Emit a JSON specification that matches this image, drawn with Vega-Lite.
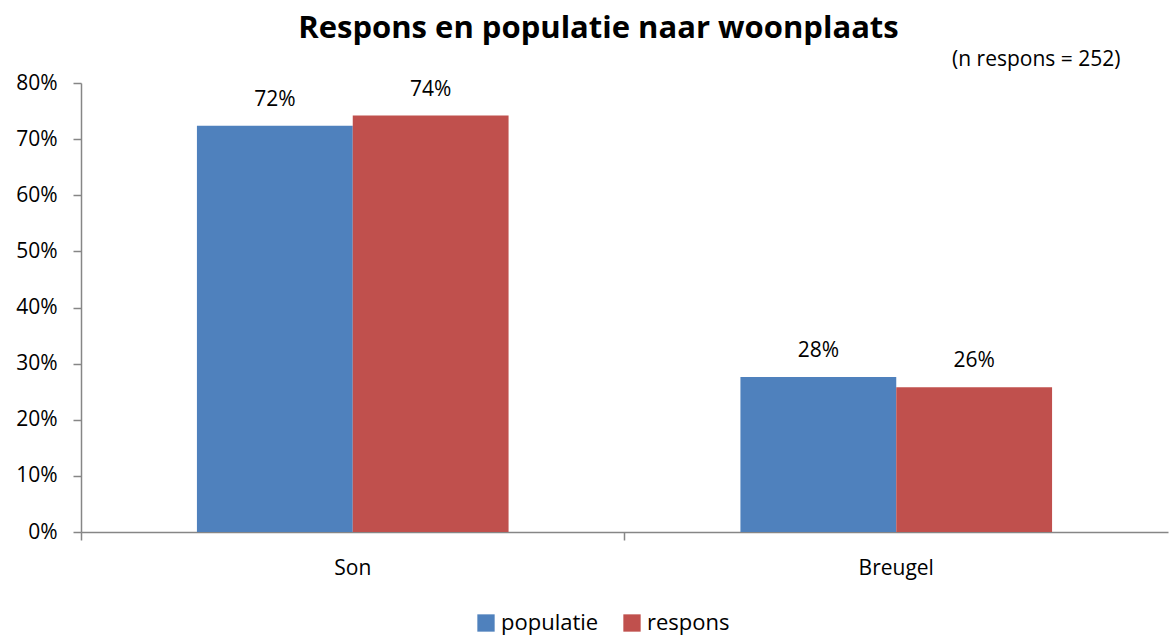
{
  "$schema": "https://vega.github.io/schema/vega-lite/v6.json",
  "width": 1087,
  "height": 449,
  "autosize": {"type": "none"},
  "padding": {"left": 81, "top": 83, "right": 2, "bottom": 105},
  "background": "white",
  "title": {
    "text": "Respons en populatie naar woonplaats",
    "font": "Open Sans",
    "fontSize": 31,
    "fontWeight": "bold",
    "color": "black",
    "anchor": "middle",
    "frame": "group",
    "dx": -26,
    "offset": 3
  },
  "config": {
    "view": {"stroke": null},
    "font": "Open Sans"
  },
  "data": {
    "values": [
      {"woonplaats": "Son", "groep": "populatie", "waarde": 0.724},
      {"woonplaats": "Son", "groep": "respons", "waarde": 0.742},
      {"woonplaats": "Breugel", "groep": "populatie", "waarde": 0.276},
      {"woonplaats": "Breugel", "groep": "respons", "waarde": 0.258}
    ]
  },
  "encoding": {
    "x": {
      "field": "woonplaats",
      "type": "nominal",
      "sort": ["Son", "Breugel"],
      "scale": {"paddingInner": 0, "paddingOuter": 0},
      "axis": null
    },
    "y": {
      "field": "waarde",
      "type": "quantitative",
      "scale": {"domain": [0, 0.8], "nice": false},
      "axis": {
        "title": null,
        "format": ".0%",
        "values": [0, 0.1, 0.2, 0.3, 0.4, 0.5, 0.6, 0.7, 0.8],
        "grid": false,
        "tickSize": 8,
        "tickColor": "#868686",
        "tickWidth": 1.5,
        "domainColor": "#868686",
        "domainWidth": 1.5,
        "labelFontSize": 21,
        "labelColor": "black",
        "labelPadding": 16,
        "labelFont": "Open Sans"
      }
    }
  },
  "layer": [
    {
      "mark": {"type": "bar"},
      "encoding": {
        "x": {
          "field": "woonplaats",
          "type": "nominal",
          "sort": ["Son", "Breugel"],
          "axis": {
            "title": null,
            "labelAngle": 0,
            "bandPosition": 0,
            "labelOffset": 0,
            "labelAlign": "center",
            "tickSize": 8,
            "tickColor": "#868686",
            "tickWidth": 1.5,
            "domainColor": "#868686",
            "domainWidth": 1.5,
            "labelFontSize": 21,
            "labelColor": "black",
            "labelPadding": 17,
            "labelFont": "Open Sans"
          }
        },
        "xOffset": {
          "field": "groep",
          "type": "nominal",
          "scale": {"paddingInner": 0, "paddingOuter": 0.744}
        },
        "color": {
          "field": "groep",
          "type": "nominal",
          "scale": {"domain": ["populatie", "respons"], "range": ["#4F81BD", "#C0504D"]},
          "legend": {
            "title": null,
            "orient": "none",
            "legendX": 394,
            "legendY": 529,
            "direction": "horizontal",
            "symbolType": "square",
            "symbolSize": 300,
            "symbolStrokeWidth": 0,
            "labelFontSize": 22,
            "labelColor": "black",
            "labelFont": "Open Sans",
            "columnPadding": 22
          }
        }
      }
    },
    {
      "mark": {"type": "text", "dy": -26, "fontSize": 21, "color": "black", "font": "Open Sans"},
      "encoding": {
        "xOffset": {
          "field": "groep",
          "type": "nominal",
          "scale": {"paddingInner": 0, "paddingOuter": 0.744}
        },
        "text": {"field": "waarde", "type": "quantitative", "format": ".0%"}
      }
    },
    {
      "mark": {"type": "point", "opacity": 0},
      "encoding": {
        "x": {
          "field": "woonplaats",
          "type": "nominal",
          "sort": ["Son", "Breugel"],
          "axis": {
            "orient": "top",
            "labels": false,
            "ticks": false,
            "domain": false,
            "title": "(n respons = 252)",
            "titleFontWeight": "normal",
            "titleFontSize": 21,
            "titleColor": "black",
            "titleFont": "Open Sans",
            "titleAnchor": "end",
            "titleAlign": "right",
            "titleX": 1039,
            "titlePadding": 14
          }
        }
      }
    }
  ],
  "resolve": {"axis": {"x": "independent"}}
}
